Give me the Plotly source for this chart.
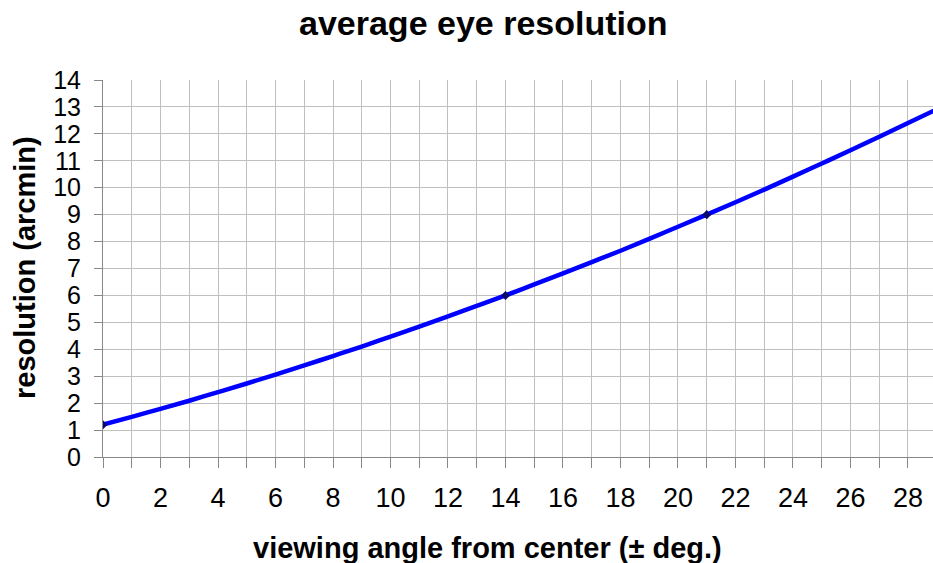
import plotly.graph_objects as go

# viewing angle (deg) and resolution (arcmin)
angle = [0, 1, 2, 3, 4, 5, 6, 7, 8, 9, 10, 11, 12, 13, 14, 15, 16, 17, 18, 19,
         20, 21, 22, 23, 24, 25, 26, 27, 28, 28.9]
resolution = [1.2, 1.49, 1.79, 2.09, 2.41, 2.73, 3.06, 3.40, 3.75, 4.10, 4.47,
              4.84, 5.22, 5.61, 6.0, 6.41, 6.82, 7.24, 7.66, 8.10, 8.55, 9.0,
              9.46, 9.93, 10.41, 10.90, 11.39, 11.89, 12.40, 12.86]

# measured points
pt_angle = [0, 14, 21]
pt_res = [1.2, 6.0, 9.0]

x_ticks = list(range(0, 29, 2))
y_ticks = list(range(0, 15))

FONT = "Liberation Sans, Arial, Helvetica, sans-serif"

fig = go.Figure()
fig.add_trace(go.Scatter(x=angle, y=resolution, mode="lines",
                         line=dict(color="#0000ff", width=4.5, shape="spline"),
                         hoverinfo="skip", showlegend=False))
fig.add_trace(go.Scatter(x=pt_angle, y=pt_res, mode="markers",
                         marker=dict(color="#0a0a6e", size=7, symbol="diamond"),
                         showlegend=False))

fig.update_layout(
    width=933, height=563,
    margin=dict(l=103, r=0, t=80, b=106),
    paper_bgcolor="white", plot_bgcolor="white",
    font=dict(family=FONT, color="black"),
    annotations=[
        dict(text="<b>average eye resolution</b>", xref="paper", yref="paper",
             x=(483 - 103) / 830, y=1, yshift=57, xanchor="center", yanchor="middle",
             showarrow=False, font=dict(size=34, family=FONT)),
        dict(text="<b>viewing angle from center (± deg.)</b>", xref="paper", yref="paper",
             x=(487 - 103) / 830, y=0, yshift=-91, xanchor="center", yanchor="middle",
             showarrow=False, font=dict(size=29, family=FONT)),
        dict(text="<b>resolution (arcmin)</b>", xref="paper", yref="paper",
             x=0, xshift=-78, y=(457 - 268) / 377, xanchor="center", yanchor="middle",
             textangle=-90, showarrow=False, font=dict(size=29, family=FONT)),
    ],
)

fig.update_xaxes(
    range=[0, 28.87], tickvals=x_ticks, ticktext=[str(v) for v in x_ticks],
    tickfont=dict(size=27, family=FONT), ticks="outside", ticklen=10,
    tickcolor="#888", showgrid=True, gridcolor="#c0c0c0", gridwidth=1,
    minor=dict(dtick=1, tick0=0, showgrid=True, gridcolor="#c0c0c0",
               ticks="outside", ticklen=10, tickcolor="#888"),
    showline=True, linecolor="#888", linewidth=1, zeroline=False,
    ticklabelstandoff=7,
)
fig.update_yaxes(
    range=[0, 14], tickvals=y_ticks, ticktext=[str(v) for v in y_ticks],
    tickfont=dict(size=25, family=FONT), ticks="outside", ticklen=8,
    tickcolor="#888", showgrid=True, gridcolor="#c0c0c0", gridwidth=1,
    showline=True, linecolor="#888", linewidth=1, zeroline=False,
    ticklabelstandoff=8,
)

fig.write_html("out.html", config={"displayModeBar": False},
               post_script="document.body.style.margin='0';document.body.style.padding='0';")
